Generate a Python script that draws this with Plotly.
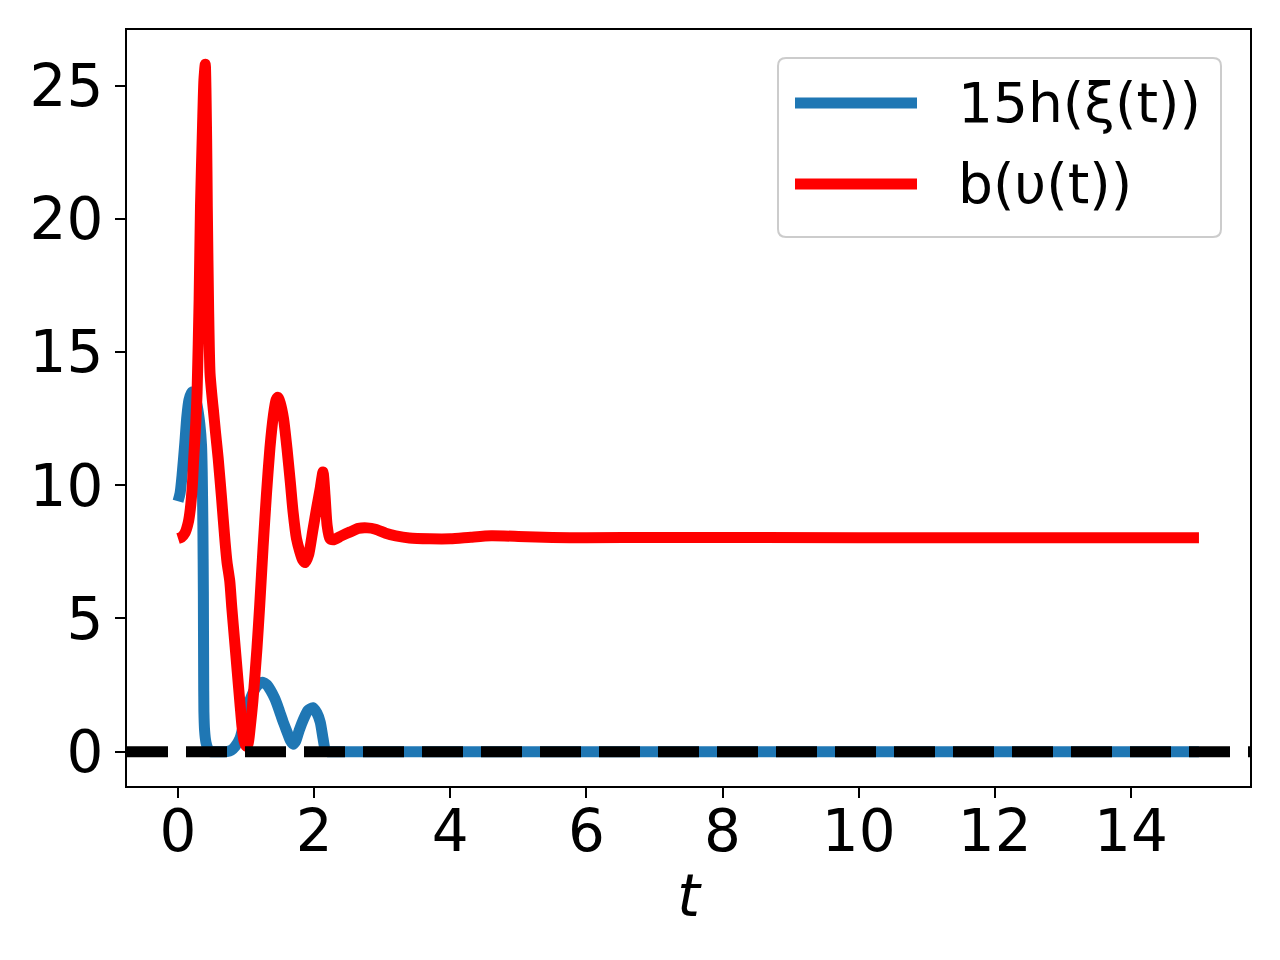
import plotly.graph_objects as go

# ---------------- data ----------------
t_h = [0.0, 0.03, 0.06, 0.10, 0.13, 0.16, 0.20, 0.24, 0.28, 0.32, 0.345, 0.355, 0.365,
       0.372, 0.376, 0.38, 0.39, 0.41, 0.44, 0.47, 0.50, 0.60, 0.72, 0.78, 0.84, 0.91, 0.98,
       1.06, 1.14, 1.20, 1.25, 1.30, 1.36, 1.42, 1.48, 1.54, 1.60, 1.65, 1.69, 1.73, 1.78,
       1.84, 1.91, 1.98, 2.04, 2.09, 2.13, 2.16, 2.20, 2.30, 2.50, 3.0, 5.0, 10.0, 14.5,
       14.8, 15.0]
h_vals = [9.4, 9.7, 10.4, 11.6, 12.6, 13.2, 13.5, 13.4, 13.0, 12.3, 11.5, 10.5, 8.5,
          6.0, 3.0, 1.5, 0.8, 0.35, 0.1, 0.0, 0.0, 0.0, 0.0, 0.05, 0.2, 0.5, 1.2,
          1.95, 2.4, 2.57, 2.6, 2.52, 2.3, 2.0, 1.6, 1.15, 0.75, 0.42, 0.28, 0.4, 0.8,
          1.2, 1.55, 1.65, 1.45, 1.1, 0.5, 0.1, 0.0, 0.0, 0.0, 0.0, 0.0, 0.0, 0.0,
          0.0, 0.0]

t_b = [0.0, 0.05, 0.10, 0.15, 0.18, 0.21, 0.23, 0.26, 0.28, 0.31, 0.33, 0.36, 0.38,
       0.40, 0.42, 0.43, 0.45, 0.47, 0.50, 0.52, 0.55, 0.59, 0.64, 0.69, 0.72, 0.76,
       0.79, 0.83, 0.87, 0.91, 0.94, 0.97, 1.00, 1.03, 1.06, 1.10, 1.16, 1.20, 1.25,
       1.30, 1.35, 1.40, 1.44, 1.47, 1.50, 1.55, 1.60, 1.65, 1.69, 1.74, 1.79, 1.83,
       1.87, 1.92, 1.98, 2.04, 2.09, 2.13, 2.16, 2.19, 2.23, 2.28, 2.40, 2.53, 2.65,
       2.78, 2.90, 3.05, 3.20, 3.40, 3.70, 4.00, 4.30, 4.60, 5.00, 5.50, 6.00, 7.00,
       10.0, 14.5, 14.8, 15.0]
b_vals = [8.0, 8.05, 8.2, 8.6, 9.1, 10.0, 11.0, 12.3, 13.5, 17.0, 20.5, 23.5, 25.2,
          25.8, 23.0, 20.4, 16.5, 14.2, 13.3, 12.8, 12.0, 11.0, 9.5, 7.9, 7.1, 6.4,
          5.4, 4.2, 3.0, 1.8, 0.94, 0.4, 0.2, 0.3, 0.9, 1.9, 3.9, 5.5, 7.7,
          9.7, 11.4, 12.6, 13.2, 13.3, 13.1, 12.5, 11.4, 10.1, 9.0, 8.0, 7.5, 7.2,
          7.1, 7.4, 8.3, 9.2, 9.9, 10.5, 9.6, 8.5, 8.0, 7.95, 8.1, 8.25, 8.38,
          8.4, 8.35, 8.2, 8.1, 8.02, 7.99, 7.99, 8.05, 8.1, 8.08, 8.04, 8.03, 8.04,
          8.03, 8.03, 8.03, 8.03]

ref_level = [0.0]
x_ticks = [0, 2, 4, 6, 8, 10, 12, 14]
y_ticks = [0, 5, 10, 15, 20, 25]
labels = ["15h(ξ(t))", "b(υ(t))"]
colors = ["#1f77b4", "#ff0000"]

# ---------------- figure ----------------
W, H = 1280, 960
OFF = 8  # page body margin offset
PL, PR, PT, PB = 127, 1250, 30, 786
L = PL - OFF
T = PT - OFF
R = W - (PR - OFF)
B = H - (PB - OFF)
FONT = "DejaVu Sans"

line_style = dict(width=11, shape="spline", smoothing=0.6)
fig = go.Figure()
fig.add_trace(go.Scatter(x=t_h, y=h_vals, mode="lines", name=labels[0],
                         line=dict(color=colors[0], **line_style), showlegend=False))
fig.add_trace(go.Scatter(x=t_b, y=b_vals, mode="lines", name=labels[1],
                         line=dict(color=colors[1], **line_style), showlegend=False))

fig.add_shape(type="line", xref="paper", yref="y", x0=0, x1=1,
              y0=ref_level[0], y1=ref_level[0],
              line=dict(color="black", width=11, dash="41px,18px"), layer="above")

# ---------------- manual legend ----------------
def px2paper(px, py):
    return (px - PL) / (PR - PL), (PB - py) / (PB - PT)

bx0, by0, bx1, by1 = 778, 58, 1221, 237
rad = 8
def rr_path(x0, y0, x1, y1, r):
    def p(x, y):
        a, b = px2paper(x, y)
        return f"{a:.5f},{b:.5f}"
    s = f"M {p(x0 + r, y0)} L {p(x1 - r, y0)} Q {p(x1, y0)} {p(x1, y0 + r)} "
    s += f"L {p(x1, y1 - r)} Q {p(x1, y1)} {p(x1 - r, y1)} "
    s += f"L {p(x0 + r, y1)} Q {p(x0, y1)} {p(x0, y1 - r)} "
    s += f"L {p(x0, y0 + r)} Q {p(x0, y0)} {p(x0 + r, y0)} Z"
    return s

fig.add_shape(type="path", xref="paper", yref="paper", path=rr_path(bx0, by0, bx1, by1, rad),
              line=dict(color="rgba(204,204,204,1)", width=2), fillcolor="rgba(255,255,255,0.8)",
              layer="above")
rows_y = [103, 184]
for lab, col, ry in zip(labels, colors, rows_y):
    xa, ya = px2paper(795, ry)
    xb, _ = px2paper(917, ry)
    fig.add_shape(type="line", xref="paper", yref="paper", x0=xa, x1=xb, y0=ya, y1=ya,
                  line=dict(color=col, width=11), layer="above")
    xt, _ = px2paper(956, ry)
    fig.add_annotation(xref="paper", yref="paper", x=xt, y=ya, text=lab, showarrow=False,
                       xanchor="left", yanchor="middle",
                       font=dict(family=FONT, size=55, color="black"))

axis_common = dict(showline=True, linecolor="black", linewidth=2, mirror=True,
                   ticks="outside", ticklen=10, tickwidth=2, tickcolor="black",
                   showgrid=False, zeroline=False,
                   tickfont=dict(family=FONT, size=58, color="black"))

fig.update_xaxes(range=[-0.75, 15.75], tickvals=x_ticks, ticklabelstandoff=-17,
                 title=dict(text="t", font=dict(family=FONT, size=58, color="black", style="italic"),
                            standoff=12),
                 **axis_common)
fig.update_yaxes(range=[-1.29, 27.09], tickvals=y_ticks, **axis_common)

fig.update_layout(width=W, height=H, margin=dict(l=L, r=R, t=T, b=B),
                  plot_bgcolor="white", paper_bgcolor="white",
                  font=dict(family=FONT, color="black"))

fig.write_html("out.html")
